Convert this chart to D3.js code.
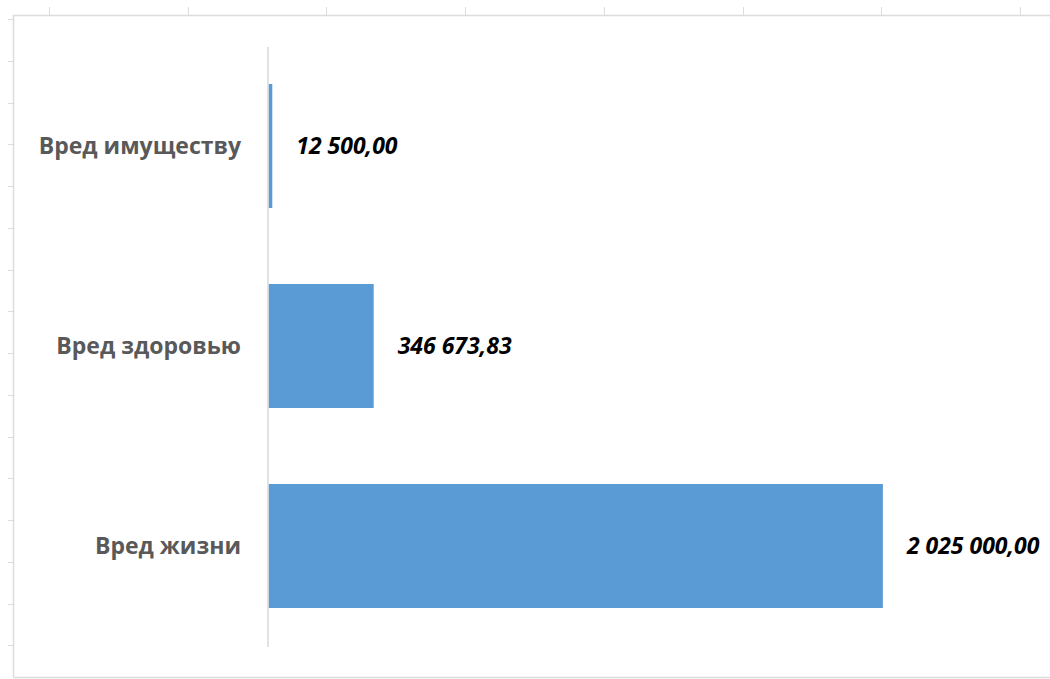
<!DOCTYPE html>
<html>
<head>
<meta charset="utf-8">
<script src="https://cdn.jsdelivr.net/npm/d3@7"></script>
<style>
  body { margin: 0; background: #fff; }
</style>
</head>
<body>
<script>
// data
const categories = ["Вред имуществу", "Вред здоровью", "Вред жизни"];
const values = [12500, 346673.83, 2025000];
const axisMax = 2500000;

const WIDTH = 1050;
const HEIGHT = 679;

const ruFormat = d3.formatLocale({
    decimal: ",", thousands: "\u00a0", grouping: [3], currency: ["", ""]
}).format(",.2f");

const svg = d3.select("body").append("svg")
    .attr("width", WIDTH)
    .attr("height", HEIGHT);

svg.append("rect").attr("width", "100%").attr("height", "100%").attr("fill", "white");

// sheet frame behind the chart (column and row marks)
const frame = svg.append("g").attr("stroke", "#dcdcdc").attr("fill", "none");
frame.append("path").attr("d", "M13.5,677.5 V15.5 H1050").attr("stroke-width", 1.5);
frame.append("path").attr("d", "M13.5,677.5 H1050").attr("stroke-width", 1.5);
const colX = d3.range(8).map(i => 49 + i * 138.7);
frame.selectAll("line.col").data(colX).join("line")
    .attr("x1", d => Math.round(d) + 0.5).attr("x2", d => Math.round(d) + 0.5)
    .attr("y1", 7).attr("y2", 15.5).attr("stroke-width", 1);
const rowY = d3.range(16).map(i => 19 + i * 41.75);
frame.selectAll("line.row").data(rowY).join("line")
    .attr("x1", 8).attr("x2", 13.5)
    .attr("y1", d => Math.round(d) + 0.5).attr("y2", d => Math.round(d) + 0.5)
    .attr("stroke-width", 1);

// scales
const x = d3.scaleLinear().domain([0, axisMax]).range([268.5, 1027]);
const y = d3.scaleBand().domain(categories).range([46, 646]).paddingInner(0.38).paddingOuter(0.19);

// bars
svg.append("g").selectAll("rect").data(categories).join("rect")
    .attr("x", x(0))
    .attr("y", d => y(d))
    .attr("width", (d, i) => x(values[i]) - x(0))
    .attr("height", y.bandwidth())
    .attr("fill", "#5b9bd5");

// vertical category axis
svg.append("line")
    .attr("x1", 268).attr("x2", 268)
    .attr("y1", 47).attr("y2", 647)
    .attr("stroke", "#d9d9d9").attr("stroke-width", 1.5);

// category labels
svg.append("g").selectAll("text").data(categories).join("text")
    .attr("x", 241)
    .attr("y", d => y(d) + y.bandwidth() / 2)
    .attr("dy", "0.35em")
    .attr("text-anchor", "end")
    .attr("font-family", "'Open Sans', sans-serif")
    .attr("font-weight", "bold")
    .attr("font-size", 23)
    .attr("fill", "#595959")
    .text(d => d);

// value labels
svg.append("g").selectAll("text").data(categories).join("text")
    .attr("x", (d, i) => x(values[i]) + 24)
    .attr("y", d => y(d) + y.bandwidth() / 2)
    .attr("dy", "0.35em")
    .attr("font-family", "'Open Sans', sans-serif")
    .attr("font-weight", "bold")
    .attr("font-style", "italic")
    .attr("font-size", 23)
    .attr("fill", "#000")
    .text((d, i) => ruFormat(values[i]));
</script>
</body>
</html>
